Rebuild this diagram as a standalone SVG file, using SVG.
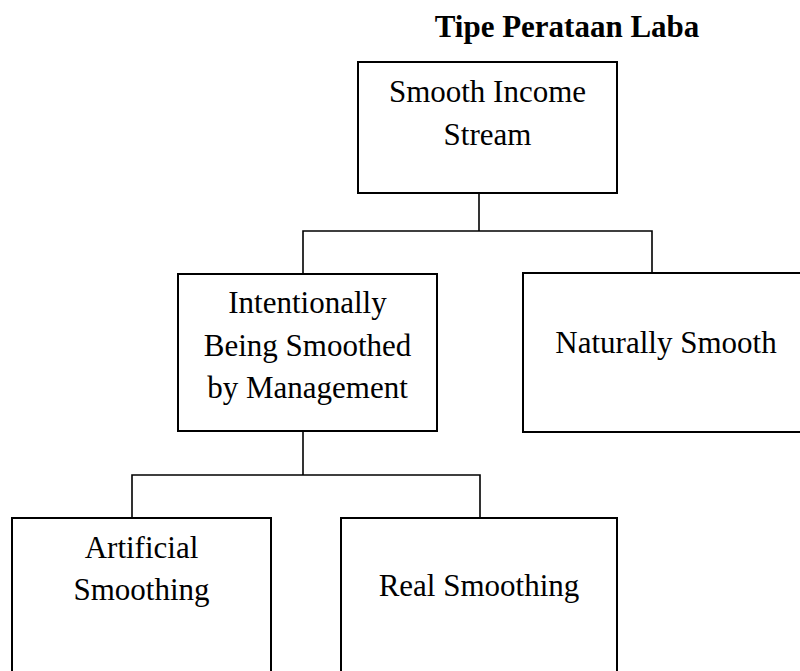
<svg xmlns="http://www.w3.org/2000/svg" width="800" height="671" viewBox="0 0 800 671">
<style>
.box{fill:#fff;stroke:#000;stroke-width:2}
.t{font-family:"Liberation Serif","Times New Roman",serif;font-size:31px;fill:#000;text-anchor:middle}
.title{font-family:"Liberation Serif","Times New Roman",serif;font-size:31px;font-weight:bold;fill:#000;text-anchor:middle}
.c{fill:none;stroke:#000;stroke-width:1.6}
</style>
<rect width="800" height="671" fill="#fff"/>
<text class="title" x="567" y="37">Tipe Perataan Laba</text>
<g id="connectors">
<polyline class="c" points="479,193 479,231"/>
<polyline class="c" points="303,274 303,231 652,231 652,273"/>
<polyline class="c" points="303,431 303,475"/>
<polyline class="c" points="132,518 132,475 480,475 480,518"/>
</g>
<g id="smooth-income-stream">
<rect class="box" x="358" y="62" width="259" height="131"/>
<text class="t" x="487.5" y="102">Smooth Income</text>
<text class="t" x="487.5" y="145">Stream</text>
</g>
<g id="intentionally">
<rect class="box" x="178" y="274" width="259" height="157"/>
<text class="t" x="307.5" y="313">Intentionally</text>
<text class="t" x="307.5" y="356">Being Smoothed</text>
<text class="t" x="307.5" y="398">by Management</text>
</g>
<g id="naturally-smooth">
<rect class="box" x="523" y="273" width="287" height="159"/>
<text class="t" x="666" y="353">Naturally Smooth</text>
</g>
<g id="artificial-smoothing">
<rect class="box" x="12" y="518" width="259" height="170"/>
<text class="t" x="141.5" y="558">Artificial</text>
<text class="t" x="141.5" y="600">Smoothing</text>
</g>
<g id="real-smoothing">
<rect class="box" x="341" y="518" width="276" height="170"/>
<text class="t" x="479" y="596">Real Smoothing</text>
</g>
</svg>
